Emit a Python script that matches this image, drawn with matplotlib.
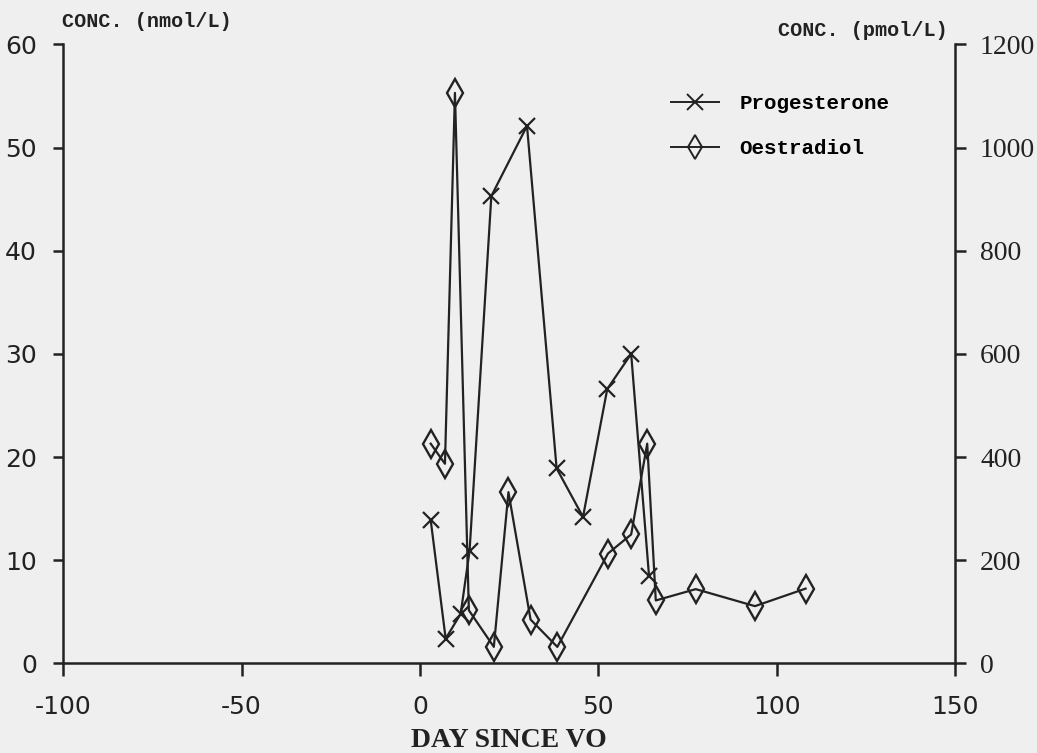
import matplotlib.pyplot as plt
from matplotlib.lines import Line2D

plt.rcParams['axes.unicode_minus'] = False

# progesterone (nmol/L), left axis
prog_day = [3.0, 7.2, 11.4, 13.9, 20.0, 30.0, 38.3, 45.7, 52.5, 59.2, 64.2]
prog_conc = [13.9, 2.4, 4.8, 10.9, 45.3, 52.1, 18.9, 14.2, 26.6, 30.0, 8.5]

# oestradiol (pmol/L), right axis
oest_day = [3.0, 7.0, 9.8, 13.7, 20.7, 24.8, 31.0, 38.5, 52.7, 59.2, 63.7,
            66.1, 77.3, 93.9, 108.1]
oest_conc = [426, 387, 1106, 103, 32, 332, 85, 32, 213, 250, 426,
             122, 144, 111, 145]

left_ticks = [0, 10, 20, 30, 40, 50, 60]
right_ticks = [0, 200, 400, 600, 800, 1000, 1200]
day_ticks = [-100, -50, 0, 50, 100, 150]

bg = '#efefef'
ink = '#222222'

fig = plt.figure(figsize=(10.37, 7.53), dpi=100, facecolor=bg)
ax = fig.add_axes([0.061, 0.119, 0.860, 0.822])
ax2 = ax.twinx()
ax.set_facecolor(bg)

l1, = ax.plot(prog_day, prog_conc, color=ink, lw=1.6, marker='x',
              markersize=12, markeredgewidth=1.6)
l2, = ax2.plot(oest_day, oest_conc, color=ink, lw=1.6, marker='d',
               markersize=14, markeredgewidth=1.7, fillstyle='none')

ax.set_xlim(-100, 150)
ax.set_ylim(0, 60)
ax2.set_ylim(0, 1200)
ax.set_xticks(day_ticks)
ax.set_yticks(left_ticks)
ax2.set_yticks(right_ticks)

for a in (ax, ax2):
    a.spines['top'].set_visible(False)
    for s in a.spines.values():
        s.set_color(ink)
        s.set_linewidth(1.8)
ax.spines['right'].set_visible(False)
ax2.spines['left'].set_visible(False)
ax2.spines['bottom'].set_visible(False)

ax.tick_params(axis='x', direction='out', length=9, width=1.8, color=ink,
               pad=14, labelsize=18, labelcolor=ink)
ax.tick_params(axis='y', direction='out', length=7, width=1.8, color=ink,
               pad=12, labelsize=18, labelcolor=ink)
ax2.tick_params(axis='y', direction='out', length=8, width=1.8, color=ink,
                pad=10, labelsize=18, labelcolor=ink)
for lab in ax2.get_yticklabels():
    lab.set_family('Liberation Serif')
    lab.set_fontsize(20)

fig.text(0.060, 0.971, 'CONC. (nmol/L)', family='Liberation Mono',
         weight='bold', fontsize=14.5, color=ink, va='center', ha='left')
fig.text(0.750, 0.960, 'CONC. (pmol/L)', family='Liberation Mono',
         weight='bold', fontsize=14.5, color=ink, va='center', ha='left')
ax.set_xlabel('DAY SINCE VO', family='Liberation Serif', weight='bold',
              fontsize=20, color=ink, labelpad=6)

handles = [Line2D([], [], color=ink, lw=1.4, marker='x', markersize=11,
                  markeredgewidth=1.4),
           Line2D([], [], color=ink, lw=1.4, marker='d', markersize=12,
                  markeredgewidth=1.4, fillstyle='none')]
ax.legend(handles, ['Progesterone', 'Oestradiol'], loc='upper left',
          bbox_to_anchor=(0.66, 0.95), frameon=False, handlelength=2.3,
          handletextpad=1.0, labelspacing=1.25,
          prop={'family': 'Liberation Mono', 'weight': 'bold', 'size': 15})

fig.savefig('out.png', dpi=100, facecolor=bg)
